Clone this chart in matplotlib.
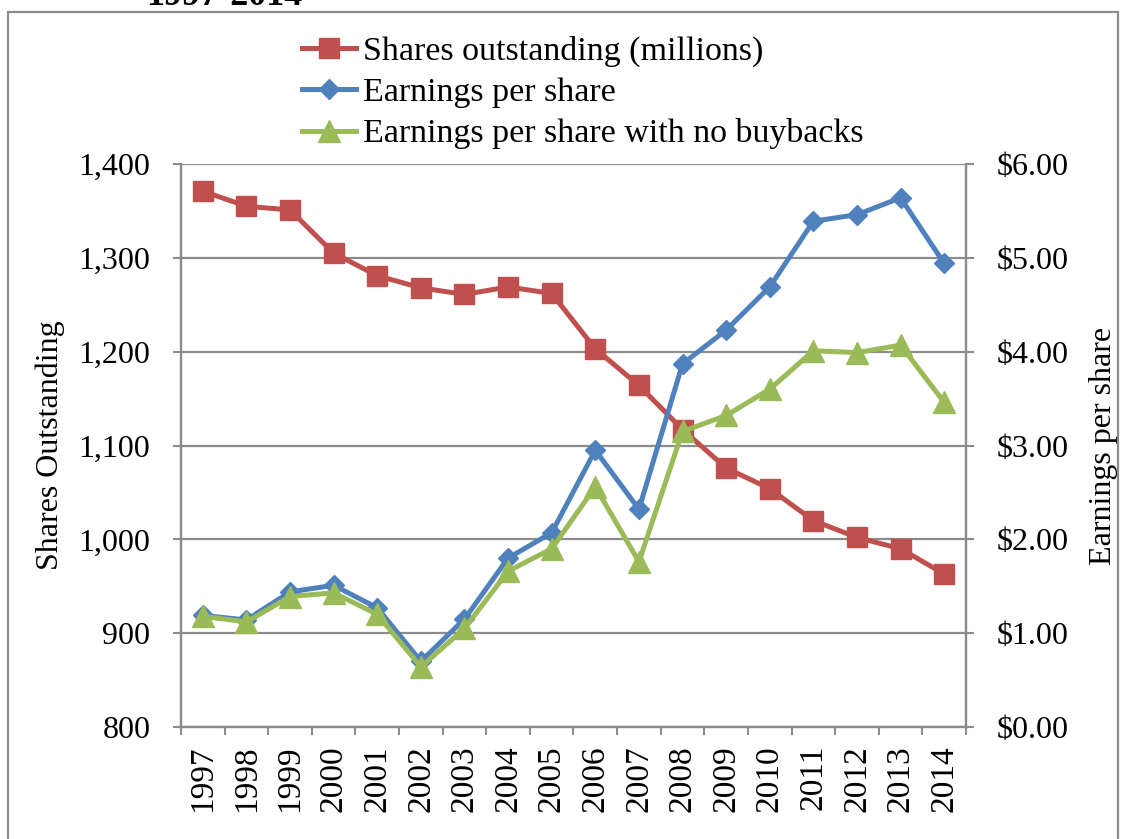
import matplotlib.pyplot as plt
from matplotlib.patches import Rectangle
from matplotlib.ticker import FuncFormatter, FixedLocator
import numpy as np

years = [str(y) for y in range(1997, 2015)]
shares = [1371, 1355, 1351, 1305, 1281, 1268, 1261, 1269, 1262,
          1203, 1164, 1117, 1076, 1054, 1020, 1002, 990, 963]
eps = [1.19, 1.14, 1.44, 1.51, 1.27, 0.70, 1.15, 1.80, 2.07,
       2.95, 2.32, 3.87, 4.23, 4.69, 5.39, 5.46, 5.64, 4.94]
eps_no_buyback = [1.18, 1.12, 1.39, 1.43, 1.20, 0.64, 1.05, 1.66, 1.90,
                  2.56, 1.76, 3.15, 3.32, 3.60, 4.01, 3.99, 4.07, 3.46]

RED = "#C0504D"
BLUE = "#4F81BD"
GREEN = "#9BBB59"
GRID = "#8C8C8C"
FS = 23

plt.rcParams["font.family"] = ["Liberation Serif", "DejaVu Serif"]

fig = plt.figure(figsize=(11.22, 8.39), dpi=100)
ax = fig.add_axes([181 / 1122, 1 - 727 / 839, (966 - 181) / 1122, (727 - 164) / 839])
ax2 = ax.twinx()

x = np.arange(len(years))

l1, = ax.plot(x, shares, color=RED, lw=3.6, marker="s", ms=15, label="Shares outstanding (millions)")
l2, = ax2.plot(x, eps, color=BLUE, lw=3.6, marker="D", ms=10.5, label="Earnings per share")
l3, = ax2.plot(x, eps_no_buyback, color=GREEN, lw=3.6, marker="^", ms=16,
               label="Earnings per share with no buybacks")

ax.set_xlim(-0.5, len(years) - 0.5)
ax.set_ylim(800, 1400)
ax2.set_ylim(0, 6)
ax.set_yticks(np.arange(800, 1401, 100))
ax2.set_yticks(np.arange(0, 7, 1))
ax.yaxis.set_major_formatter(FuncFormatter(lambda v, p: f"{v:,.0f}"))
ax2.yaxis.set_major_formatter(FuncFormatter(lambda v, p: f"${v:.2f}"))

ax.set_xticks(x)
ax.set_xticklabels(years, rotation=90)
ax.xaxis.set_minor_locator(FixedLocator(np.arange(-0.5, len(years), 1)))
ax.tick_params(axis="x", which="major", length=0, pad=13, labelsize=24)
ax.tick_params(axis="x", which="minor", length=6, width=1.5, color=GRID)
ax.tick_params(axis="y", length=6, width=1.5, color=GRID, labelsize=FS, pad=16)
ax2.tick_params(axis="y", length=6, width=1.5, color=GRID, labelsize=FS, pad=16)

ax.grid(axis="y", color=GRID, lw=1.6)
ax.set_axisbelow(True)
for a in (ax, ax2):
    for side in ("left", "right", "bottom"):
        a.spines[side].set_color(GRID)
        a.spines[side].set_linewidth(1.6)
    a.spines["top"].set_visible(False)

ax.set_ylabel("Shares Outstanding", fontsize=FS, labelpad=10)
ax2.set_ylabel("Earnings per share", fontsize=FS, labelpad=15)

fig.legend(handles=[l1, l2, l3], loc="upper left", bbox_to_anchor=(302 / 1122, 1 - 36 / 839),
           frameon=False, fontsize=24.5, handlelength=1.6, handletextpad=0.2,
           labelspacing=0.3, borderpad=0, borderaxespad=0)

# clipped title at the top edge and outer chart border
fig.text(224 / 1122, 1 - 5 / 839, "1997-2014", ha="center", va="baseline",
         fontsize=26, fontweight="bold")
fig.patches.append(Rectangle((8 / 1122, -0.05), (1118 - 8) / 1122, 1.05 - 12 / 839,
                             transform=fig.transFigure, fill=False, ec=GRID, lw=1.6))

fig.savefig("out.png", dpi=100)
